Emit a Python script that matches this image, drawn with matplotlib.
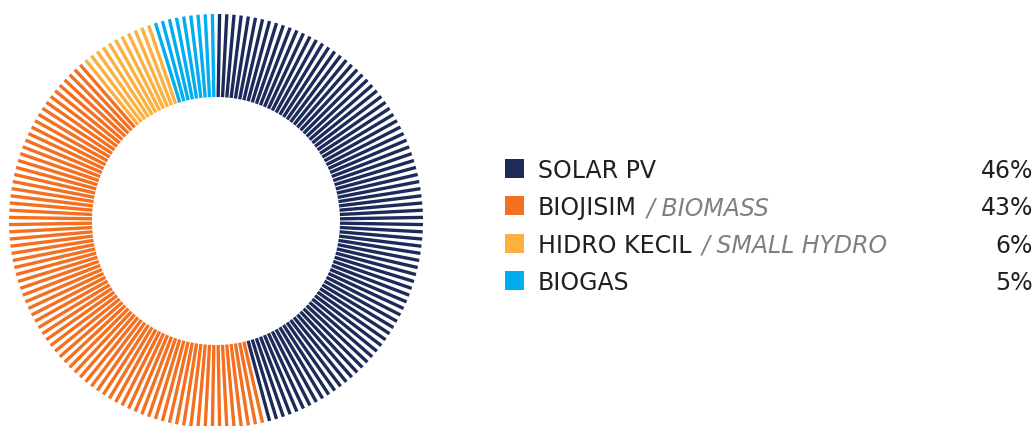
import numpy as np
import matplotlib
matplotlib.use("Agg")
import matplotlib.pyplot as plt
from matplotlib.collections import LineCollection
from matplotlib.patches import Rectangle

# ---- data ----
labels_main = ["SOLAR PV", "BIOJISIM", "HIDRO KECIL", "BIOGAS"]
labels_en = ["", "BIOMASS", "SMALL HYDRO", ""]
shares = [46, 43, 6, 5]
colors = ["#1d2b5a", "#f37021", "#fbb040", "#00aeef"]

# ---- layout ----
W, H = 1035, 426
fig = plt.figure(figsize=(W / 100, H / 100), dpi=100)
ax = fig.add_axes([0, 0, 1, 1])
ax.set_xlim(0, W)
ax.set_ylim(H, 0)
ax.axis("off")

cx, cy = 216, 221
r_out, r_in = 207, 124
n_spokes = 180

cum = np.cumsum(shares) / np.sum(shares)
theta = (np.arange(n_spokes) + 0.5) / n_spokes  # fraction of full circle, clockwise from top
cat = np.searchsorted(cum, theta, side="right")
cat = np.clip(cat, 0, len(shares) - 1)
ang = theta * 2 * np.pi
segs = []
for a in ang:
    segs.append([(cx + r_in * np.sin(a), cy - r_in * np.cos(a)),
                 (cx + r_out * np.sin(a), cy - r_out * np.cos(a))])
lc = LineCollection(segs, colors=[colors[c] for c in cat], linewidths=2.4,
                    capstyle="butt")
ax.add_collection(lc)

# ---- legend ----
fig.canvas.draw()
renderer = fig.canvas.get_renderer()
fs = 17
y0, dy = 178, 37.3
for i, (m, e, s, c) in enumerate(zip(labels_main, labels_en, shares, colors)):
    yb = y0 + i * dy
    ax.add_patch(Rectangle((505, yb - 19), 19, 19, facecolor=c, edgecolor="none"))
    t = ax.text(538, yb, m, fontsize=fs, color="#231f20", va="baseline", ha="left")
    if e:
        bb = t.get_window_extent(renderer=renderer)
        x_end = bb.x1
        ax.text(x_end + 10, H - yb, "/ " + e, fontsize=fs, color="#808080",
                style="italic", va="baseline", ha="left",
                transform=None)
    ax.text(1033, yb, f"{s}%", fontsize=fs, color="#231f20", va="baseline", ha="right")

fig.savefig("out.png", dpi=100)
